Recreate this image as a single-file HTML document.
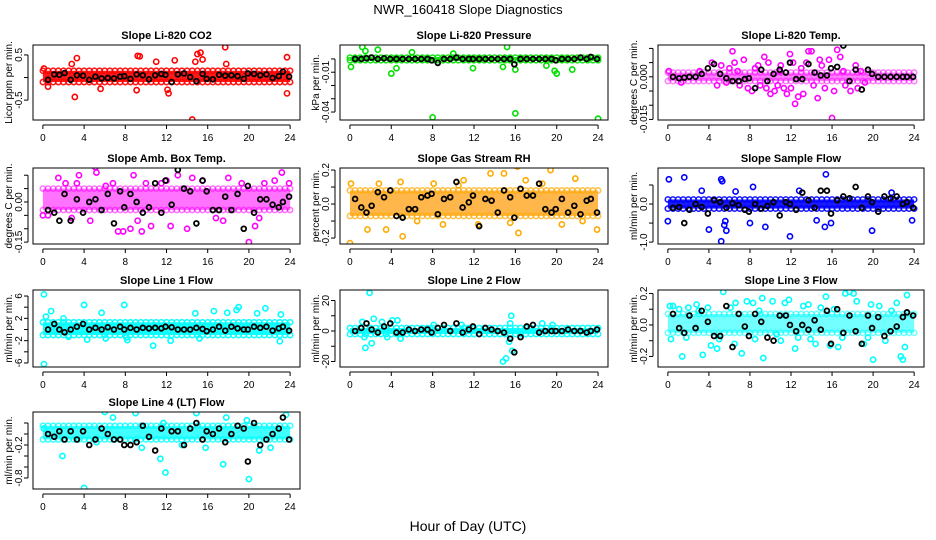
<!DOCTYPE html>
<html><head><meta charset="utf-8">
<style>
html,body{margin:0;padding:0;background:#fff;}
svg{display:block;font-family:"Liberation Sans",Arial,sans-serif;}
</style></head>
<body>
<svg id="chart" width="936" height="540" viewBox="0 0 936 540" xmlns="http://www.w3.org/2000/svg">
<text x="468" y="14" text-anchor="middle" font-size="13">NWR_160418  Slope Diagnostics</text>
<text x="468" y="531" text-anchor="middle" font-size="14">Hour of Day (UTC)</text>
</svg>
<script>
const blackHours = [0.5,1.1,1.6,2.1,2.7,3.3,3.9,4.5,5.1,5.7,6.3,6.9,7.5,7.9,8.5,9.1,9.7,10.3,10.9,11.5,11.9,12.5,13.1,13.7,14.3,14.9,15.5,15.9,16.5,17.1,17.7,18.3,18.9,19.5,19.9,20.5,21.1,21.7,22.3,22.9,23.3,23.9];
const xTicks = [0,4,8,12,16,20,24];

const panelTitles = ["Slope Li-820 CO2","Slope Li-820 Pressure","Slope Li-820 Temp.","Slope Amb. Box Temp.","Slope Gas Stream RH","Slope Sample Flow","Slope Line 1 Flow","Slope Line 2 Flow","Slope Line 3 Flow","Slope Line 4 (LT) Flow"];
const yTitles = ["Licor ppm per min.","kPa per min.","degrees C per min.","degrees C per min.","percent per min.","ml/min per min.","ml/min per min.","ml/min per min.","ml/min per min.","ml/min per min."];
const bandLo = [-0.1,-0.001,-0.0015,-0.03,-0.07,-0.12,-1.0,-2.0,-0.05,-0.1];
const bandHi = [0.15,0.001,0.0015,0.05,0.08,0.12,1.3,2.0,0.07,0.15];
const bandOpacity = [0.9,0.9,0.5,0.55,0.7,0.9,0.9,0.9,0.55,0.75];

const co2Black = [-0.05,0.07,0.06,0.1,-0.05,0.05,0.04,-0.05,0.02,-0.02,-0.01,-0.02,0.02,0.03,-0.03,0.07,0.05,-0.04,0.05,0.08,0.06,-0.1,0.07,0.09,0.01,-0.08,0.08,-0.03,-0.04,0.06,0.04,0.05,0.03,-0.03,0.09,0.08,0.05,0.07,-0.01,0.03,0.13,0.02];
const presBlack = [0,0,0.0005,0.001,0,0.0005,0,0,0,0,0,0,0,-0.001,-0.003,0,0,0.001,0,0,0,0,0,0,0,0,0,-0.004,0,0,0,0,0,0,-0.001,0,0,0,0.001,0,0.0015,0];
const tempBlack = [0,-0.0005,-0.0003,0,0,0.001,0.003,0.0045,0.001,-0.0005,-0.0015,-0.0015,-0.0008,-0.0005,-0.004,0.0025,-0.0015,0.001,0.0025,0.0015,0.005,-0.0008,-0.0008,0.0045,0.0015,0.0005,0.0005,0.003,0.0035,0.011,-0.0015,0.0025,-0.0045,0.0025,0.001,0,0,0,0,0,0,0];
const ambBlack = [-0.03,-0.04,-0.07,0.03,-0.07,0.01,-0.04,0,0.01,-0.03,0.03,-0.08,0.04,-0.02,0.03,0,-0.04,-0.02,0.07,-0.04,0.08,-0.01,0.12,0.05,0.04,-0.08,0.08,0.04,-0.03,-0.03,0.02,-0.03,0.03,-0.1,0.06,-0.04,0.01,0.01,-0.01,-0.02,0,0.02];
const rhBlack = [0.03,-0.02,-0.05,-0.01,0.07,0.04,0.08,-0.07,-0.08,-0.03,-0.03,0.04,0.05,0.06,-0.06,0.03,0.04,0.13,-0.02,0.01,0.05,-0.13,0.03,0.02,-0.05,0.08,0.04,-0.08,0.09,0.05,0.05,0.12,-0.03,-0.05,-0.03,0.03,-0.05,-0.01,-0.06,0.02,0.03,-0.05];
const sampleBlack = [-0.1,-0.08,-0.5,-0.15,0,-0.08,-0.25,0.1,0.05,-0.1,0.02,-0.03,-0.15,-0.2,0,-0.12,-0.05,0.05,-0.3,0.05,0,-0.15,0.3,0.1,-0.1,0.35,0.35,-0.25,0.1,0.2,0.15,0.45,-0.1,0.2,0.05,-0.2,0.2,0.15,0.2,0,0.05,-0.1];
const line1Black = [0,1,0,-0.5,0,0.5,1,0,0.3,0,0.4,0,0.5,0,0.3,0,0.3,0.2,0.3,0.2,0.5,0.4,0,0,0,0.3,0.1,-0.3,0,0.5,-0.2,0.5,0.2,0,0,0.5,0.3,0.5,-0.2,0.2,0.5,-0.2];
const line2Black = [0,2,5,1,-1,3,5,-1,-1,1,0,1,1,-1,2,4,0,5,-1,1,3,-2,2,1,0,-1,-5,-14,-4,3,4,-1,0,0,0,0,1,0,0,-1,0,1];
const line3Black = [0.07,-0.02,-0.05,0.06,-0.02,0.09,0.02,-0.07,-0.07,0.12,-0.14,0.07,-0.01,-0.07,0.07,0.02,-0.08,-0.1,0.06,0.06,0,-0.04,0,-0.03,0.03,-0.03,0.09,-0.12,0.1,-0.05,0.06,-0.04,-0.12,0.06,-0.02,0.05,-0.07,-0.04,-0.01,0.05,0.08,0.06];
const line4Black = [0,-0.05,0.05,-0.1,0.05,-0.1,0.05,-0.2,-0.1,0.1,0,-0.1,-0.1,-0.2,-0.2,-0.15,0.15,-0.05,-0.3,0.1,0.45,0.05,0.05,-0.2,0.1,0.2,-0.1,0.05,0,0.1,-0.15,0,0.15,0.1,-0.5,0.2,-0.2,-0.1,0,0.1,0.3,-0.1];

const co2Out = [[14.5,-0.93],[17.7,0.67],[3.1,-0.43],[23.7,0.45],[23.7,-0.35],[15.3,0.55],[15,0.52],[9.2,0.48],[9.4,0.47],[3.3,0.43],[14.8,0.35],[12.2,-0.35],[12.1,-0.27],[9.1,-0.28],[15.5,0.4],[2.8,0.3],[11,0.35],[12.8,0.38],[0.1,0.2],[17.8,0.3],[0.5,-0.2],[5.6,-0.25]];
const presOut = [[0.1,-0.006],[1.2,0.009],[1.5,0.006],[2.7,0.007],[4,-0.011],[8,-0.044],[16,-0.041],[24,-0.045],[11.9,-0.007],[15.2,0.009],[16,-0.008],[20,-0.011],[19,-0.005],[21.5,-0.008],[14.8,-0.006],[4.5,-0.007],[6,0.005],[10,0.004],[19.8,-0.009]];
const tempOut = [[0.1,0.002],[1.3,-0.002],[3.1,0.002],[4.3,0.005],[5.2,0.004],[6.3,0.009],[6.5,0.005],[7,-0.003],[7.4,0.006],[8.2,-0.005],[8.8,0.004],[9.4,0.007],[10,-0.006],[10.4,-0.005],[10.9,0.002],[11.3,-0.004],[11.9,0.008],[12.4,-0.0095],[12.7,-0.007],[13.2,-0.006],[13.7,0.009],[14,0.009],[14.6,-0.0075],[15.3,-0.004],[15.7,0.006],[16,-0.0145],[16.5,0.0095],[16.8,0.007],[17.3,-0.003],[17.8,-0.005],[18.3,0.004],[18.8,0.002],[19.2,-0.002],[9.8,0.005],[5.7,-0.002],[8.5,0.003],[11,0.004],[12.2,0.005],[14.2,-0.003],[13,0.003],[4.8,-0.003],[6.8,0.002],[9,-0.003],[15,0.004],[17.1,0.002],[7.8,-0.004],[10.7,-0.003],[12,-0.004],[13.5,0.005],[16.2,-0.005],[18.5,-0.004],[9.6,-0.004],[6,0.003],[14.8,0.006],[11.6,-0.006]];
const ambOut = [[5.1,0.13],[5.2,0.11],[13.1,0.1],[20,-0.15],[1.5,0.09],[3.5,0.1],[8.8,0.1],[7.3,-0.11],[7.8,-0.11],[8.5,-0.1],[9.6,-0.11],[10.5,-0.09],[12.4,-0.09],[14,-0.1],[17.5,-0.07],[20.6,-0.09],[23.2,0.11],[23.9,0.07],[0,-0.05],[0.5,-0.05],[2.2,0.07],[4.6,-0.07],[6.1,0.06],[10,0.07],[11.5,0.07],[14.5,0.09],[18,0.09],[19.3,0.07],[21.5,0.07],[3.3,0.07],[2.8,-0.06],[6.8,0.07],[9.2,-0.07],[12,0.08],[15.5,0.08],[16.8,-0.06],[21,-0.06],[22.5,0.08]];
const rhOut = [[0,-0.23],[0.1,0.12],[1.7,-0.15],[5.1,-0.19],[3.5,-0.15],[13.6,0.18],[14.9,0.18],[16.2,0.22],[16.3,-0.17],[19.4,0.2],[21.8,0.15],[23.9,-0.15],[17,0.14],[9,-0.12],[8.1,0.12],[11,0.14],[12.4,-0.12],[20.5,-0.12],[4.9,0.13],[2.8,0.12],[6.5,-0.1],[10.5,0.11],[15.5,-0.11],[18.6,0.12],[22.5,-0.1]];
const sampleOut = [[0.1,0.65],[1.6,0.7],[0,-0.45],[4,-0.67],[5.2,-0.98],[5.2,0.65],[5.3,0.6],[5.5,-0.55],[5.7,-0.7],[5.6,-0.45],[8,-0.5],[9.5,-0.6],[11.9,-0.85],[15.4,0.78],[15.3,-0.6],[15.9,-0.5],[19.9,-0.7],[23.8,-0.43],[14.5,-0.43],[8.3,0.45],[12.8,0.35],[3.3,0.35],[21.8,0.3],[6.6,0.33]];
const line1Out = [[0.1,6.3],[0.1,-6.2],[0.3,2.3],[0.8,3.3],[4,4.4],[4.3,-1.8],[7.9,4.4],[8.2,-1.9],[8.1,-1.4],[10.7,-2.9],[12.4,-2],[19,4],[18.8,3.5],[21.6,3.8],[20.8,2.9],[23,-2.1],[23.1,2.7],[5.7,3],[14.8,2.9],[16.6,3.3],[2,2],[2.5,-1.3],[6.1,-1.6],[15.2,-1.6],[17.9,3]];
const line2Out = [[1.9,25],[1.5,-11],[2.1,-8],[1.2,6],[2.3,8],[1.4,-4],[3.1,6],[3.6,-4],[4.1,7],[4.6,7],[4.9,-5],[14.8,-20],[15.1,-18],[15.4,-7],[15.7,-13],[15.6,10],[15.5,5],[18.6,5],[19.6,4],[10.8,4],[8.1,4]];
const line3Out = [[0.2,0.12],[0.3,-0.09],[0.5,0.12],[1.1,0.1],[1.4,-0.2],[2,0.11],[2.8,0.13],[3.4,-0.19],[3.9,0.11],[4.2,-0.13],[4.8,-0.15],[5.4,0.21],[6.1,0.11],[6.6,0.14],[7.2,-0.18],[7.7,0.15],[8.3,0.14],[8.5,-0.09],[9.2,0.17],[9.3,-0.21],[10.2,0.15],[11,-0.1],[11.4,0.14],[11.8,0.16],[12.4,-0.15],[13.2,0.12],[13.7,0.13],[14.4,-0.12],[14.9,0.11],[15.4,0.18],[15.8,-0.13],[16.6,-0.14],[17.3,0.2],[17.7,0.21],[18.1,0.2],[18.4,0.15],[19.1,-0.12],[19.8,0.13],[20,-0.22],[20.6,0.12],[21.2,-0.1],[22.3,0.14],[22.7,-0.2],[23.1,-0.14],[23.3,0.19],[22.9,-0.22],[6.5,-0.12],[10.6,-0.06],[1.8,-0.08],[5,-0.09],[8.9,0.09],[12.7,-0.08],[16.2,0.1],[19.5,-0.08],[21.8,0.09],[3,0.09],[13.9,-0.09],[17,-0.08]];
const line4Out = [[4,-0.98],[11.9,-0.7],[11.4,-0.45],[20,-0.82],[17.5,-0.55],[1.9,-0.4],[0.1,0.1],[6,0.4],[6.8,0.3],[9,0.38],[14.9,0.38],[17.8,0.3],[19.8,0.25],[23.6,0.35],[11.7,0.2],[9.6,-0.25],[15.8,-0.25],[21,-0.3],[22.1,-0.25],[13.5,-0.2],[5.2,-0.15]];

const svg = document.getElementById('chart');
const NS = 'http://www.w3.org/2000/svg';
function mk(tag, attrs, parent){const e=document.createElementNS(NS,tag);for(const k in attrs)e.setAttribute(k,attrs[k]);(parent||svg).appendChild(e);return e;}

const cols = [[33,300],[340,608],[658,924]];
const rows = [[45,120],[168,244],[290,367],[412,489]];
const yLims = [[-0.94,0.72],[-0.046,0.0105],[-0.0152,0.0112],[-0.157,0.127],[-0.235,0.212],[-1.05,0.947],[-6.72,7.08],[-23.6,26.9],[-0.267,0.222],[-1.0,0.4]];
const yTickVals = [[-0.5,0,0.5],[0,-0.01,-0.02,-0.03,-0.04],[0.01,0.005,0,-0.005,-0.01,-0.015],[0.1,0.05,0,-0.05,-0.1,-0.15],[0.2,0.1,0,-0.1,-0.2],[0.5,0,-0.5,-1.0],[6,4,2,0,-2,-4,-6],[20,10,0,-10,-20],[0.2,0.1,0,-0.1,-0.2],[0.2,0,-0.2,-0.4,-0.6,-0.8]];
const yTickLabels = [["-0.5","","0.5"],["","-0.01","","","-0.04"],["","","0.000","","","-0.015"],["","","0.00","","","-0.15"],["0.2","","0.0","","-0.2"],["","0.0","","-1.0"],["6","","2","","-2","","-6"],["20","","0","","-20"],["0.2","","0.0","","-0.2"],["","","-0.2","","","-0.8"]];
const colors = ["#ff0000","#00e000","#ff00ff","#ff00ff","#ffaa00","#0000ff","#00ffff","#00ffff","#00ffff","#00ffff"];
const bandColors = ["#ff0000","#22dd22","#ff00ff","#ff00ff","#ff9900","#0000ff","#00ffff","#00ffff","#00ffff","#00ffff"];
const blackSets = [co2Black,presBlack,tempBlack,ambBlack,rhBlack,sampleBlack,line1Black,line2Black,line3Black,line4Black];
const outSets = [co2Out,presOut,tempOut,ambOut,rhOut,sampleOut,line1Out,line2Out,line3Out,line4Out];

for(let p=0;p<10;p++){
  const col = cols[p%3], row = rows[Math.floor(p/3)];
  const [x0,x1]=col,[y0,y1]=row;
  const [ymin,ymax]=yLims[p];
  const xs = h => x0 + (h+0.96)/25.92*(x1-x0);
  const ys = v => y1 - (v-ymin)/(ymax-ymin)*(y1-y0);
  const g = mk('g',{});
  
  
  const cp = mk('clipPath',{id:'cp'+p},g);
  mk('rect',{x:x0,y:y0,width:x1-x0,height:y1-y0},cp);
  const t = mk('text',{x:(x0+x1)/2,y:y0-6,'text-anchor':'middle','font-size':'11','font-weight':'bold'},g);
  t.textContent = panelTitles[p];
  
  
  const yt = mk('text',{transform:`translate(${x0-21},${(y0+y1)/2}) rotate(-90)`,'text-anchor':'middle','font-size':'10'},g);
  yt.textContent = yTitles[p];
  
  
  const mg = mk('g',{'clip-path':`url(#cp${p})`},g);
  const band = mk('rect',{x:xs(0),y:ys(bandHi[p]),width:xs(24)-xs(0),height:ys(bandLo[p])-ys(bandHi[p]),fill:bandColors[p],opacity:bandOpacity[p]},mg);
  
  
  for(let h=0;h<=24;h+=0.5){
    for(const v of [bandLo[p],bandHi[p]]){
      const c = mk('circle',{cx:xs(h),cy:ys(v),r:2.6,fill:'none',stroke:colors[p],'stroke-width':1.6,opacity:bandOpacity[p]},mg);
      
      
    }
  }
  for(const [h,v] of outSets[p]){
    const c = mk('circle',{cx:xs(h),cy:ys(v),r:2.6,fill:'none',stroke:colors[p],'stroke-width':1.6},mg);
    
    
  }
  blackSets[p].forEach((v,i)=>{
    const c = mk('circle',{cx:xs(blackHours[i]),cy:ys(v),r:2.4,fill:'none',stroke:'#000','stroke-width':1.8},mg);
    
    
  });
  const box = mk('rect',{x:x0,y:y0,width:x1-x0,height:y1-y0,fill:'none',stroke:'#000','stroke-width':1},g);
  
  
  mk('line',{x1:xs(0),x2:xs(24),y1:y1+5,y2:y1+5,stroke:'#000'},g);
  xTicks.forEach(h=>{
    mk('line',{x1:xs(h),x2:xs(h),y1:y1+5,y2:y1+9,stroke:'#000'},g);
    const l = mk('text',{x:xs(h),y:y1+21,'text-anchor':'middle','font-size':'10'},g);
    l.textContent = h;
    
    
  });
  const tv = yTickVals[p];
  mk('line',{x1:x0-5,x2:x0-5,y1:ys(tv[0]),y2:ys(tv[tv.length-1]),stroke:'#000'},g);
  tv.forEach((v,i)=>{
    mk('line',{x1:x0-9,x2:x0-5,y1:ys(v),y2:ys(v),stroke:'#000'},g);
    if(yTickLabels[p][i]){
      const l = mk('text',{transform:`translate(${x0-11},${ys(v)}) rotate(-90)`,'text-anchor':'middle','font-size':'10'},g);
      l.textContent = yTickLabels[p][i];
      
      
    }
  });
}
</script>
</body></html>
